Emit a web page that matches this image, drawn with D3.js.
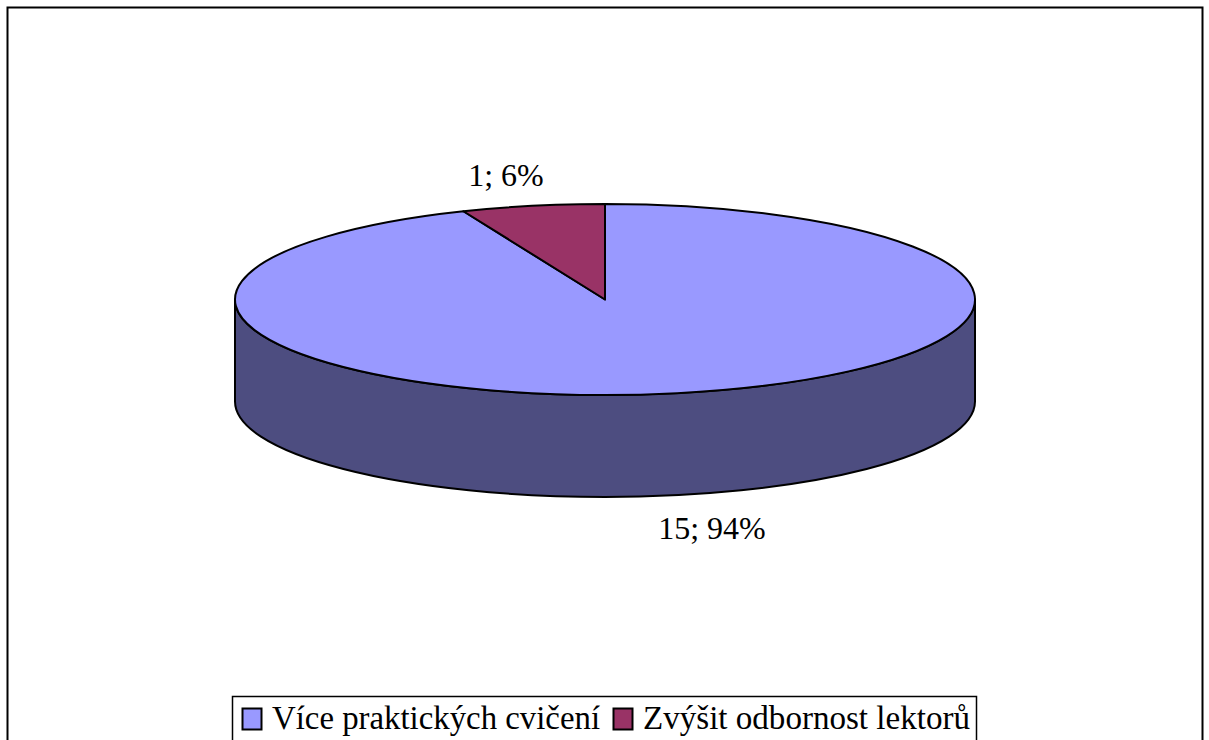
<!DOCTYPE html>
<html><head><meta charset="utf-8">
<script src="https://cdnjs.cloudflare.com/ajax/libs/d3/7.8.5/d3.min.js"></script>
<style>html,body{margin:0;padding:0;background:#fff;overflow:hidden}svg{display:block}text{font-family:"Liberation Serif",serif;fill:#000}</style>
</head><body><svg id="c" width="1209" height="740"></svg>
<script>
const categories = ["Více praktických cvičení", "Zvýšit odbornost lektorů"];
const values = [15, 1];
const dataLabels = ["15; 94%", "1; 6%"];
const colors = ["#9999ff", "#993366"];
const sideColor = "#4d4d80";

const cx = 605, cy = 299.5, rx = 370, ry = 95.5, depth = 102;
const svg = d3.select("#c");

svg.append("rect").attr("x", 7.5).attr("y", 7.5).attr("width", 1195).attr("height", 760)
  .attr("fill", "#fff").attr("stroke", "#000").attr("stroke-width", 2);

const pie = d3.pie().sort(null).value(d => d);
const arcs = pie(values);
const arc = d3.arc().innerRadius(0).outerRadius(rx);

// side wall: front half of the ellipse extruded downward
const wall = d3.path();
wall.moveTo(cx - rx, cy);
wall.lineTo(cx - rx, cy + depth);
const wallD = `M${cx - rx},${cy} L${cx - rx},${cy + depth} A${rx},${ry} 0 0 0 ${cx + rx},${cy + depth} L${cx + rx},${cy} A${rx},${ry} 0 0 1 ${cx - rx},${cy} Z`;
svg.append("path").attr("d", wallD).attr("fill", sideColor).attr("stroke", "#000").attr("stroke-width", 2).attr("stroke-linejoin", "round");

svg.append("g").attr("transform", `translate(${cx},${cy}) scale(1,${ry / rx})`)
  .selectAll("path").data(arcs).join("path")
  .attr("d", arc)
  .attr("fill", (d, i) => colors[i])
  .attr("stroke", "#000").attr("stroke-width", 2)
  .attr("vector-effect", "non-scaling-stroke")
  .attr("stroke-linejoin", "round");

const labelPos = [[712, 539], [506, 186]];
svg.selectAll("text.dl").data(dataLabels).join("text").attr("class", "dl")
  .attr("x", (d, i) => labelPos[i][0]).attr("y", (d, i) => labelPos[i][1])
  .attr("text-anchor", "middle").attr("font-size", 32).text(d => d);

// legend
svg.append("rect").attr("x", 232.5).attr("y", 696.5).attr("width", 744).attr("height", 50)
  .attr("fill", "#fff").attr("stroke", "#000").attr("stroke-width", 1.5);
const swX = [242, 613], txX = [272, 643], txW = [328, 327];
const lg = svg.append("g");
lg.selectAll("rect").data(categories).join("rect")
  .attr("x", (d, i) => swX[i] + 0.5).attr("y", 708.5).attr("width", 19).attr("height", 21)
  .attr("fill", (d, i) => colors[i]).attr("stroke", "#000").attr("stroke-width", 2);
lg.selectAll("text").data(categories).join("text")
  .attr("x", (d, i) => txX[i]).attr("y", 729).attr("font-size", 33)
  .attr("textLength", (d, i) => txW[i]).attr("lengthAdjust", "spacingAndGlyphs").text(d => d);
</script></body></html>
